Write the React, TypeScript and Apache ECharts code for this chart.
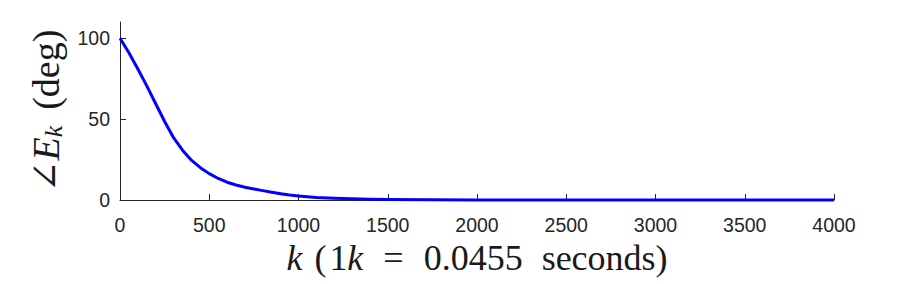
import React, { useEffect, useRef } from "react";
import * as echarts from "echarts";

const kValues = [0, 50, 100, 150, 200, 250, 300, 350, 400, 450, 500, 550, 600, 650, 700, 750, 800, 850, 900, 950, 1000, 1100, 1200, 1300, 1400, 1500, 1750, 2000, 2500, 3000, 3500, 4000];
const angleValues = [100, 91, 81, 70.5, 59.5, 48.5, 38.5, 30.8, 24.6, 20, 16.3, 13.3, 11, 9.3, 7.9, 6.8, 5.8, 4.8, 3.9, 3.1, 2.5, 1.6, 1.1, 0.7, 0.45, 0.3, 0.12, 0.05, 0.02, 0.01, 0, 0];
const xTicks = [0, 500, 1000, 1500, 2000, 2500, 3000, 3500, 4000];
const yTicks = [0, 50, 100];

const AXIS_COLOR = "#262626";
const TEXT_COLOR = "#1a1a1a";
const SERIF = "'Liberation Serif', 'DejaVu Serif', serif";
const SANS = "'Liberation Sans', Arial, sans-serif";

export default function App() {
  const ref = useRef<HTMLDivElement>(null);
  useEffect(() => {
    document.body.style.margin = "0";
    const chart = echarts.init(ref.current!, null, { renderer: "svg" });
    chart.setOption({
      animation: false,
      backgroundColor: "#ffffff",
      grid: { left: 120, right: 87, top: 22, bottom: 84 },
      xAxis: {
        type: "value",
        min: 0,
        max: 4000,
        interval: 500,
        splitLine: { show: false },
        axisLine: { show: true, onZero: false, lineStyle: { color: AXIS_COLOR, width: 1 } },
        axisTick: { show: true, inside: true, length: 6, customValues: xTicks, lineStyle: { color: AXIS_COLOR } },
        axisLabel: {
          customValues: xTicks,
          formatter: (v: number) => String(v),
          color: AXIS_COLOR,
          fontSize: 19.5,
          fontFamily: SANS,
          margin: 15,
        },
        name: "{k|k}({o|1}{i|k}{eq|=}0.0455{sp|}seconds)",
        nameLocation: "middle",
        nameGap: 36,
        nameTextStyle: {
          color: TEXT_COLOR,
          fontSize: 36,
          fontFamily: SERIF,
          rich: {
            k: { fontSize: 36, fontStyle: "italic", fontFamily: SERIF, color: TEXT_COLOR, padding: [0, 12, 0, 0] },
            o: { fontSize: 36, fontFamily: SERIF, color: TEXT_COLOR, padding: [0, 0, 0, 3] },
            i: { fontSize: 36, fontStyle: "italic", fontFamily: SERIF, color: TEXT_COLOR },
            eq: { fontSize: 36, fontFamily: SERIF, color: TEXT_COLOR, padding: [0, 20, 0, 20] },
            sp: { fontSize: 36, fontFamily: SERIF, padding: [0, 0, 0, 19] },
          },
        },
      },
      yAxis: {
        type: "value",
        min: 0,
        max: 110,
        splitLine: { show: false },
        axisLine: { show: true, lineStyle: { color: AXIS_COLOR, width: 1 } },
        axisTick: { show: true, inside: true, length: 6, customValues: yTicks, lineStyle: { color: AXIS_COLOR } },
        axisLabel: {
          customValues: yTicks,
          formatter: (v: number) => String(v),
          color: AXIS_COLOR,
          fontSize: 19.5,
          fontFamily: SANS,
          margin: 10,
        },
        name: "{a|∠}{i|E}{s|k}{sp|}{a|(deg)}",
        nameLocation: "middle",
        nameGap: 52,
        nameTextStyle: {
          color: TEXT_COLOR,
          fontSize: 38,
          fontFamily: SERIF,
          rich: {
            a: { fontSize: 38, fontFamily: SERIF, color: TEXT_COLOR },
            i: { fontSize: 38, fontStyle: "italic", fontFamily: SERIF, color: TEXT_COLOR },
            s: { fontSize: 26, fontStyle: "italic", fontFamily: SERIF, color: TEXT_COLOR, padding: [16, 0, 0, 0] },
            sp: { fontSize: 38, fontFamily: SERIF, padding: [0, 0, 0, 16] },
          },
        },
      },
      series: [
        {
          type: "line",
          data: kValues.map((k, i) => [k, angleValues[i]]),
          smooth: false,
          showSymbol: false,
          symbol: "none",
          lineStyle: { color: "#0000ff", width: 3, join: "round" },
          clip: false,
        },
      ],
    });
    return () => chart.dispose();
  }, []);
  return <div ref={ref} style={{ width: 921, height: 284 }} />;
}
